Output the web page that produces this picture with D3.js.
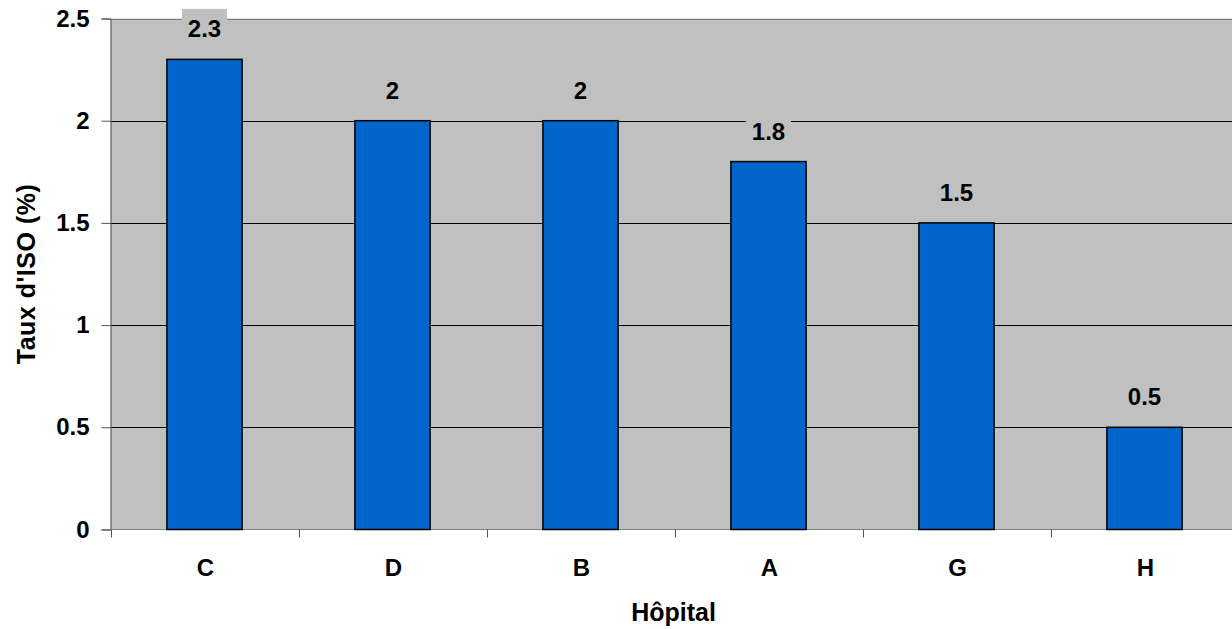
<!DOCTYPE html>
<html>
<head>
<meta charset="utf-8">
<script src="https://cdn.jsdelivr.net/npm/d3@7"></script>
<style>
  html, body { margin: 0; padding: 0; background: #fff; }
  svg { display: block; }
  text { font-family: "Liberation Sans", Arial, sans-serif; font-weight: bold; fill: #000; }
</style>
</head>
<body>
<svg id="chart" width="1232" height="629"></svg>
<script>
// Surgical site infection rate by hospital
const hospitals = ["C", "D", "B", "A", "G", "H"];
const rates = [2.3, 2, 2, 1.8, 1.5, 0.5];
const yTicks = [0, 0.5, 1, 1.5, 2, 2.5];
const yTickLabels = ["0", "0.5", "1", "1.5", "2", "2.5"];

const svg = d3.select("#chart");
const plot = { left: 110.5, top: 18.5, right: 1238.5, bottom: 529.5 };
const FONT = 24;
const TITLE_FONT = 25;

const x = d3.scaleBand()
  .domain(hospitals)
  .range([plot.left, plot.right])
  .paddingInner(0.6)
  .paddingOuter(0.3);

const y = d3.scaleLinear()
  .domain([0, 2.5])
  .range([plot.bottom, plot.top]);

// plot background
svg.append("rect")
  .attr("x", plot.left).attr("y", plot.top)
  .attr("width", plot.right - plot.left).attr("height", plot.bottom - plot.top)
  .attr("fill", "#c0c0c0");

// horizontal gridlines
svg.append("g").selectAll("line")
  .data(yTicks.filter(t => t > 0))
  .join("line")
  .attr("x1", plot.left).attr("x2", plot.right)
  .attr("y1", d => Math.round(y(d)) + 0.5).attr("y2", d => Math.round(y(d)) + 0.5)
  .attr("stroke", d => d === 2.5 ? "#808080" : "#000")
  .attr("stroke-width", 1);

// y axis
const yAxis = d3.axisLeft(y)
  .tickValues(yTicks)
  .tickFormat((d, i) => yTickLabels[i])
  .tickSize(9)
  .tickPadding(12);
const gy = svg.append("g")
  .attr("transform", `translate(${plot.left},0)`)
  .call(yAxis);
gy.select(".domain").attr("stroke", "#555");
gy.selectAll(".tick line").attr("stroke", "#555");
gy.selectAll(".tick text")
  .attr("font-size", FONT)
  .attr("font-family", "Liberation Sans, Arial, sans-serif")
  .attr("font-weight", "bold")
  .attr("fill", "#000");

// x axis: ticks sit on category boundaries
const boundaries = d3.range(hospitals.length + 1).map(i => plot.left + i * x.step());
const gx = svg.append("g");
gx.append("line")
  .attr("x1", plot.left).attr("x2", plot.right)
  .attr("y1", plot.bottom).attr("y2", plot.bottom)
  .attr("stroke", "#808080");
gx.selectAll("line.tick")
  .data(boundaries)
  .join("line")
  .attr("class", "tick")
  .attr("x1", d => Math.round(d) + 0.5).attr("x2", d => Math.round(d) + 0.5)
  .attr("y1", plot.bottom).attr("y2", plot.bottom + 8)
  .attr("stroke", "#555");
gx.selectAll("text")
  .data(hospitals)
  .join("text")
  .attr("x", d => x(d) + x.bandwidth() / 2 + 1)
  .attr("y", 576)
  .attr("text-anchor", "middle")
  .attr("font-size", FONT)
  .text(d => d);

// bars
svg.append("g").selectAll("rect")
  .data(hospitals)
  .join("rect")
  .attr("x", d => x(d))
  .attr("y", (d, i) => y(rates[i]))
  .attr("width", x.bandwidth())
  .attr("height", (d, i) => y(0) - y(rates[i]))
  .attr("fill", "#0066cc")
  .attr("stroke", "#000")
  .attr("stroke-width", 1.5);

// value labels with a backing box in the plot colour
const labels = svg.append("g").selectAll("g")
  .data(hospitals)
  .join("g")
  .attr("transform", (d, i) => `translate(${x(d) + x.bandwidth() / 2},${y(rates[i]) - 22})`);
labels.append("rect")
  .attr("x", -22.5).attr("y", -28.5)
  .attr("width", 45).attr("height", 36)
  .attr("fill", "#c0c0c0");
labels.append("text")
  .attr("text-anchor", "middle")
  .attr("font-size", FONT)
  .text((d, i) => String(rates[i]));

// axis titles
svg.append("text")
  .attr("x", (plot.left + plot.right) / 2 - 1)
  .attr("y", 621)
  .attr("text-anchor", "middle")
  .attr("font-size", TITLE_FONT)
  .text("Hôpital");

svg.append("text")
  .attr("transform", `translate(35,${(plot.top + plot.bottom) / 2}) rotate(-90)`)
  .attr("text-anchor", "middle")
  .attr("font-size", TITLE_FONT)
  .style("letter-spacing", "0.5px")
  .text("Taux d'ISO (%)");
</script>
</body>
</html>
